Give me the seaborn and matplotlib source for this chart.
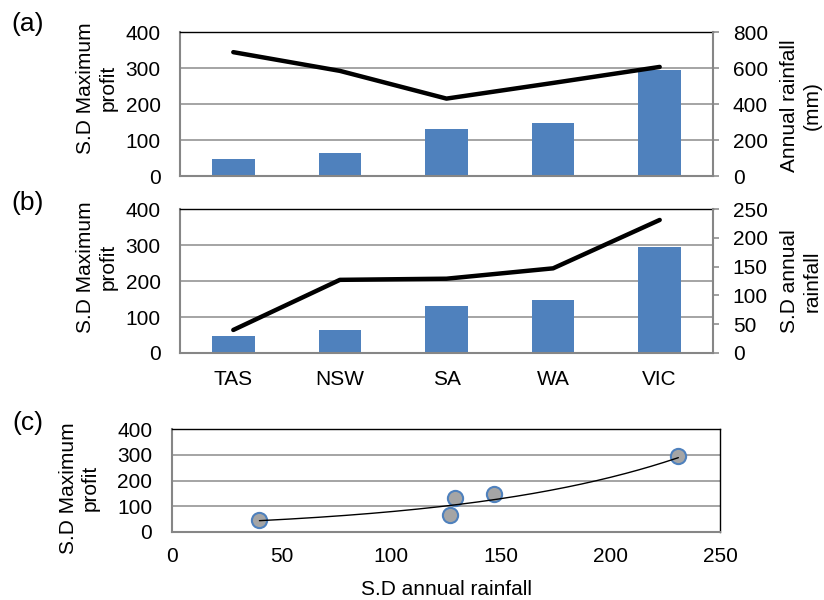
import numpy as np
import matplotlib
matplotlib.use("Agg")
import matplotlib.pyplot as plt
import seaborn as sns

# Standard deviations and rainfall by state
states = ["TAS", "NSW", "SA", "WA", "VIC"]
sd_max_profit = [46, 64, 131, 147, 295]
annual_rainfall_mm = [688, 584, 430, 517, 606]
sd_annual_rainfall = [40, 127, 129, 147, 231]

profit_ticks = [0, 100, 200, 300, 400]
rainfall_ticks = [0, 200, 400, 600, 800]
sd_rain_ticks = [0, 50, 100, 150, 200, 250]
scatter_x_ticks = [0, 50, 100, 150, 200, 250]

BLUE = "#4f81bd"
GRID = "#8c8c8c"
AXIS = "#868686"
FS = 15

sns.set_theme(style="white")
plt.rcParams["font.family"] = ["Liberation Sans", "DejaVu Sans"]

fig = plt.figure(figsize=(8.24, 6), dpi=100)
W, H = 824, 600


def box(left, top, right, bottom):
    return [left / W, 1 - bottom / H, (right - left) / W, (bottom - top) / H]


ax_a = fig.add_axes(box(180, 32, 713, 176))
ax_b = fig.add_axes(box(180, 209, 713, 353))
ax_c = fig.add_axes(box(171.7, 429.3, 720, 531.7))


def bar_line_panel(ax, line_values, right_ticks, right_label, show_states):
    sns.barplot(x=states, y=sd_max_profit, order=states, color=BLUE,
                saturation=1, width=0.4, linewidth=0, ax=ax)
    ax.set_ylim(profit_ticks[0], profit_ticks[-1])
    ax.set_yticks(profit_ticks)
    ax.set_axisbelow(True)
    ax.yaxis.grid(True, color=GRID, linewidth=1.1)
    ax.xaxis.grid(False)

    ax2 = ax.twinx()
    sns.pointplot(x=states, y=line_values, order=states, color="black",
                  marker="", linewidth=3.2, errorbar=None, ax=ax2,
                  solid_capstyle="round")
    ax2.set_ylim(right_ticks[0], right_ticks[-1])
    ax2.set_yticks(right_ticks)
    ax2.set_xlim(-0.5, len(states) - 0.5)
    ax.set_xlim(-0.5, len(states) - 0.5)

    # frame
    for side in ["left", "bottom"]:
        ax.spines[side].set_color(AXIS)
        ax.spines[side].set_linewidth(1.5)
    ax.spines["top"].set_color("black")
    ax.spines["top"].set_linewidth(1.0)
    ax.spines["right"].set_visible(False)
    for side in ["left", "bottom", "top"]:
        ax2.spines[side].set_visible(False)
    ax2.spines["right"].set_color(AXIS)
    ax2.spines["right"].set_linewidth(1.5)

    ax.tick_params(axis="y", length=0, pad=14, labelsize=FS, labelcolor="black")
    ax.tick_params(axis="x", length=0, pad=12, labelsize=FS, labelcolor="black")
    ax2.tick_params(axis="y", right=True, length=4.3, width=1.1, color=AXIS,
                    pad=10, labelsize=FS, labelcolor="black")
    if not show_states:
        ax.set_xticklabels([])
    ax.set_xlabel("")
    ax2.set_xlabel("")

    ax.set_ylabel("S.D Maximum\nprofit", fontsize=FS, va="center",
                  ha="center", color="black")
    ax2.set_ylabel(right_label, fontsize=FS, va="center", ha="center",
                   rotation=90, color="black")
    return ax2


ax_a2 = bar_line_panel(ax_a, annual_rainfall_mm, rainfall_ticks,
                       "Annual rainfall\n(mm)", False)
ax_a.yaxis.set_label_coords(-0.156, 0.61)
ax_a2.yaxis.set_label_coords(1.165, 0.49)

ax_b2 = bar_line_panel(ax_b, sd_annual_rainfall, sd_rain_ticks,
                       "S.D annual\nrainfall", True)
ax_b.yaxis.set_label_coords(-0.156, 0.597)
ax_b2.yaxis.set_label_coords(1.165, 0.5)

# (c) profit variability against rainfall variability with exponential trend
sns.scatterplot(x=sd_annual_rainfall, y=sd_max_profit, s=120,
                color="#a5a5a5", edgecolor=BLUE, linewidth=1.5,
                ax=ax_c, zorder=3)
slope, intercept = np.polyfit(sd_annual_rainfall, np.log(sd_max_profit), 1)
trend_x = np.linspace(min(sd_annual_rainfall), max(sd_annual_rainfall), 200)
sns.lineplot(x=trend_x, y=np.exp(intercept + slope * trend_x), color="black",
             linewidth=1.0, ax=ax_c, zorder=4)
ax_c.set_xlim(scatter_x_ticks[0], scatter_x_ticks[-1])
ax_c.set_xticks(scatter_x_ticks)
ax_c.set_ylim(profit_ticks[0], profit_ticks[-1])
ax_c.set_yticks(profit_ticks)
ax_c.set_axisbelow(True)
ax_c.yaxis.grid(True, color=GRID, linewidth=1.1)
ax_c.xaxis.grid(False)
for side in ["left", "bottom"]:
    ax_c.spines[side].set_color(AXIS)
    ax_c.spines[side].set_linewidth(1.5)
for side in ["top", "right"]:
    ax_c.spines[side].set_color("black")
    ax_c.spines[side].set_linewidth(1.0)
ax_c.tick_params(axis="y", length=0, pad=14, labelsize=FS, labelcolor="black")
ax_c.tick_params(axis="x", length=0, pad=11, labelsize=FS, labelcolor="black")
ax_c.set_ylabel("S.D Maximum\nprofit", fontsize=FS, va="center", ha="center",
                color="black")
ax_c.yaxis.set_label_coords(-0.169, 0.427)
ax_c.set_xlabel("S.D annual rainfall", fontsize=FS, va="center", ha="center",
                color="black")
ax_c.xaxis.set_label_coords(0.502, -0.56)

# panel letters
for letter, ypix in [("(a)", 24), ("(b)", 203), ("(c)", 423)]:
    fig.text(28 / W, 1 - ypix / H, letter, fontsize=19, ha="center",
             va="center", color="black")

fig.savefig("out.png", dpi=100)
